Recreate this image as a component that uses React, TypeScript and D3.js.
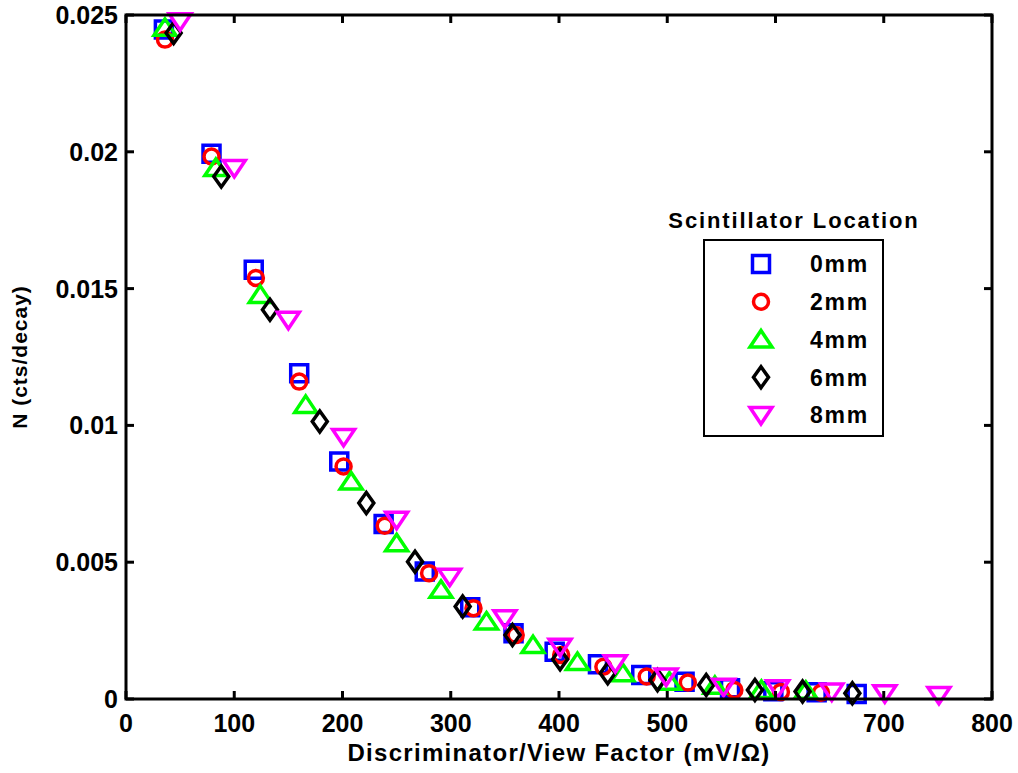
import { useEffect, useRef } from 'react';
import * as d3 from 'd3';

// x = discriminator / view factor (mV/Ohm), y = N (cts/decay)
const x0mm = [35, 79, 118, 160, 197, 238, 276, 318, 358, 396, 436, 476, 516, 558, 598, 638, 675];
const y0mm = [0.02447, 0.01993, 0.01569, 0.01191, 0.00868, 0.0064, 0.00466, 0.00335, 0.0024, 0.00173, 0.00127, 0.00088, 0.00063, 0.00039, 0.00028, 0.00025, 0.00018];

const x2mm = [36, 79, 120, 160, 201, 239, 280, 321, 360, 402, 441, 481, 519, 562, 605, 642];
const y2mm = [0.0241, 0.01983, 0.01539, 0.0116, 0.0085, 0.00633, 0.0046, 0.00332, 0.00234, 0.00161, 0.00118, 0.00082, 0.0006, 0.00033, 0.00026, 0.00023];

const x4mm = [36, 83, 124, 166, 208, 250, 291, 333, 376, 417, 459, 502, 544, 587, 628];
const y4mm = [0.02453, 0.01941, 0.01477, 0.01075, 0.00795, 0.00569, 0.00399, 0.00283, 0.00197, 0.00135, 0.00094, 0.00063, 0.00048, 0.00033, 0.0003];

const x6mm = [44, 88, 133, 179, 222, 267, 311, 357, 401, 445, 491, 536, 581, 625, 671];
const y6mm = [0.02434, 0.0191, 0.01423, 0.01014, 0.00716, 0.00502, 0.00338, 0.00234, 0.00145, 0.00094, 0.00069, 0.00051, 0.00033, 0.00027, 0.00021];

const x8mm = [50, 100, 150, 201, 250, 299, 350, 401, 452, 499, 552, 602, 652, 701, 751];
const y8mm = [0.02477, 0.01941, 0.01386, 0.00958, 0.00655, 0.00447, 0.00295, 0.00191, 0.00131, 0.00082, 0.00045, 0.00039, 0.00027, 0.00021, 0.00015];

const seriesNames = ['0mm', '2mm', '4mm', '6mm', '8mm'];
const seriesColors = ['#0000ff', '#ff0000', '#00ff00', '#000000', '#ff00ff'];
const seriesShapes = ['square', 'circle', 'up', 'diamond', 'down'];

const xTicks = [0, 100, 200, 300, 400, 500, 600, 700, 800];
const yTicks = [0, 0.005, 0.01, 0.015, 0.02, 0.025];
const yTickLabels = ['0', '0.005', '0.01', '0.015', '0.02', '0.025'];

const FONT = "'Liberation Sans', Arial, Helvetica, sans-serif";

function markerPath(shape: string) {
  switch (shape) {
    case 'square': return 'M-8.5,-8.5H8.5V8.5H-8.5Z';
    case 'up': return 'M0,-9L11,7.5H-11Z';
    case 'down': return 'M0,9L11,-7.5H-11Z';
    case 'diamond': return 'M0,-10.5L7.5,0L0,10.5L-7.5,0Z';
    default: return 'M7.5,0A7.5,7.5 0 1,1 -7.5,0A7.5,7.5 0 1,1 7.5,0Z';
  }
}

export default function App() {
  const ref = useRef<SVGSVGElement>(null);

  useEffect(() => {
    const svg = d3.select(ref.current);
    svg.selectAll('*').remove();

    const margin = { left: 126, top: 15, right: 992, bottom: 699 };
    const x = d3.scaleLinear().domain([0, 800]).range([margin.left, margin.right]);
    const y = d3.scaleLinear().domain([0, 0.025]).range([margin.bottom, margin.top]);

    const series = [
      { xs: x0mm, ys: y0mm },
      { xs: x2mm, ys: y2mm },
      { xs: x4mm, ys: y4mm },
      { xs: x6mm, ys: y6mm },
      { xs: x8mm, ys: y8mm },
    ];

    // markers
    series.forEach((s, i) => {
      svg.append('g').selectAll('path').data(s.xs.map((v, j) => [v, s.ys[j]])).enter().append('path')
        .attr('d', markerPath(seriesShapes[i]))
        .attr('transform', d => `translate(${x(d[0])},${y(d[1])})`)
        .attr('fill', 'none').attr('stroke', seriesColors[i]).attr('stroke-width', 3.5);
    });

    // axes box
    const ax = svg.append('g');
    ax.append('rect').attr('x', margin.left).attr('y', margin.top)
      .attr('width', margin.right - margin.left).attr('height', margin.bottom - margin.top)
      .attr('fill', 'none').attr('stroke', '#000').attr('stroke-width', 3);

    const tk = 8;
    xTicks.forEach(t => {
      ax.append('line').attr('x1', x(t)).attr('x2', x(t)).attr('y1', margin.bottom).attr('y2', margin.bottom - tk)
        .attr('stroke', '#000').attr('stroke-width', 3);
      ax.append('line').attr('x1', x(t)).attr('x2', x(t)).attr('y1', margin.top).attr('y2', margin.top + tk)
        .attr('stroke', '#000').attr('stroke-width', 3);
      ax.append('text').attr('x', x(t)).attr('y', 732).attr('text-anchor', 'middle')
        .style('font-family', FONT).style('font-weight', 'bold').style('font-size', '25px')
        .text(String(t));
    });
    yTicks.forEach((t, i) => {
      ax.append('line').attr('x1', margin.left).attr('x2', margin.left + tk).attr('y1', y(t)).attr('y2', y(t))
        .attr('stroke', '#000').attr('stroke-width', 3);
      ax.append('line').attr('x1', margin.right).attr('x2', margin.right - tk).attr('y1', y(t)).attr('y2', y(t))
        .attr('stroke', '#000').attr('stroke-width', 3);
      ax.append('text').attr('x', 118).attr('y', y(t)).attr('dy', '0.36em').attr('text-anchor', 'end')
        .style('font-family', FONT).style('font-weight', 'bold').style('font-size', '25px')
        .text(yTickLabels[i]);
    });

    // axis labels
    svg.append('text').attr('x', (margin.left + margin.right) / 2).attr('y', 761).attr('text-anchor', 'middle')
      .style('font-family', FONT).style('font-weight', 'bold').style('font-size', '24px').style('letter-spacing', '1.3px')
      .text('Discriminator/View Factor (mV/\u03A9)');
    svg.append('text').attr('transform', `translate(27,${(margin.top + margin.bottom) / 2}) rotate(-90)`)
      .attr('text-anchor', 'middle')
      .style('font-family', FONT).style('font-weight', 'bold').style('font-size', '21px').style('letter-spacing', '1px')
      .text('N (cts/decay)');

    // legend
    const lg = svg.append('g');
    lg.append('text').attr('x', 794).attr('y', 228).attr('text-anchor', 'middle')
      .style('font-family', FONT).style('font-weight', 'bold').style('font-size', '22px').style('letter-spacing', '1.9px')
      .text('Scintillator Location');
    lg.append('rect').attr('x', 704).attr('y', 240).attr('width', 179).attr('height', 196)
      .attr('fill', '#fff').attr('stroke', '#000').attr('stroke-width', 2);
    const rowY = d3.scalePoint().domain(seriesNames).range([264, 415]);
    seriesNames.forEach((n, i) => {
      lg.append('path').attr('d', markerPath(seriesShapes[i]))
        .attr('transform', `translate(761,${rowY(n)})`)
        .attr('fill', 'none').attr('stroke', seriesColors[i]).attr('stroke-width', 3.5);
      lg.append('text').attr('x', 810).attr('y', rowY(n)!).attr('dy', '0.36em')
        .style('font-family', FONT).style('font-weight', 'bold').style('font-size', '23px').style('letter-spacing', '1.8px')
        .text(n);
    });
  }, []);

  return (
    <svg ref={ref} width={1018} height={773}
      style={{ position: 'absolute', left: 0, top: 0, background: '#fff' }} />
  );
}
